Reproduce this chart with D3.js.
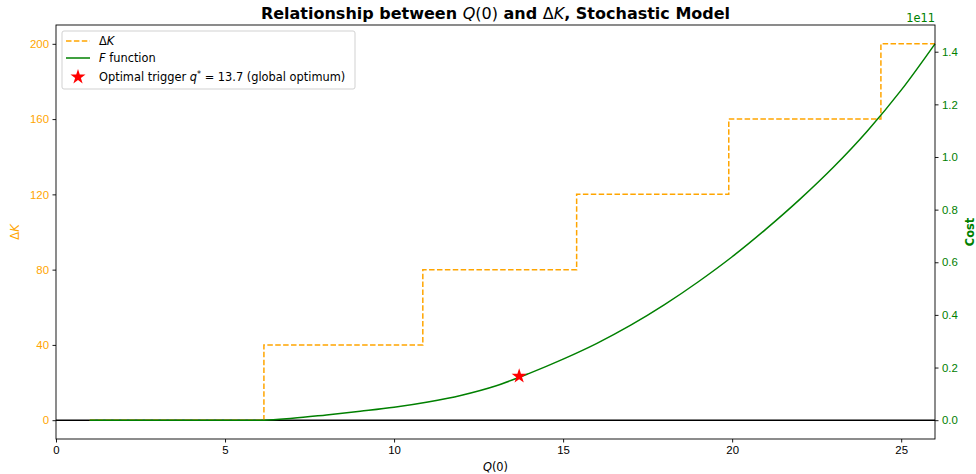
<!DOCTYPE html>
<html>
<head>
<meta charset="utf-8">
<script src="https://cdn.jsdelivr.net/npm/d3@7"></script>
<style>
  body { margin: 0; background: #fff; }
  svg { font-family: "DejaVu Sans", sans-serif; }
</style>
</head>
<body>
<div id="chart"></div>
<script>
// ΔK step function (value holds from each q until the next one)
var stepQ = [1, 6.15, 10.85, 15.4, 19.9, 24.4, 26];
var stepDK = [0, 40, 80, 120, 160, 200, 200];

// F function (cost, in units of 1e11)
var costQ = [1, 2, 3, 4, 5, 6, 6.15, 7, 8, 9, 10, 11, 12, 13, 14, 15, 16, 17, 18, 19, 20, 21, 22, 23, 24, 25, 26];
var costF = [0, 0, 0, 0, 0, 0, 0, 0.007, 0.02, 0.034, 0.049, 0.069, 0.095, 0.13, 0.178, 0.232, 0.292, 0.361, 0.439, 0.526, 0.621, 0.726, 0.839, 0.962, 1.099, 1.254, 1.43];

var optQ = 13.7, optF = 0.167;

var xTicks = [0, 5, 10, 15, 20, 25];
var dkTicks = [0, 40, 80, 120, 160, 200];
var costTicks = [0, 0.2, 0.4, 0.6, 0.8, 1.0, 1.2, 1.4];

var W = 976, H = 474;
var margin = {top: 25, right: 41, bottom: 35, left: 56},
    width = W - margin.left - margin.right,
    height = H - margin.top - margin.bottom;

var orange = "#ffa500", green = "#008000";
var fs = 11.4;

var svg = d3.select("#chart").append("svg")
    .attr("width", W)
    .attr("height", H);

var g = svg.append("g")
    .attr("transform", "translate(" + margin.left + "," + margin.top + ")");

var x = d3.scaleLinear().domain([0, 26]).range([0, width]);
var yK = d3.scaleLinear().domain([-10, 210]).range([height, 0]);
var yC = d3.scaleLinear().domain([-0.0715, 1.5015]).range([height, 0]);

// axes
var xAxis = d3.axisBottom(x).tickValues(xTicks).tickSize(3.5).tickPadding(3.5).tickFormat(d3.format("d"));
var yAxisL = d3.axisLeft(yK).tickValues(dkTicks).tickSize(3.5).tickPadding(3.5);
var yAxisR = d3.axisRight(yC).tickValues(costTicks).tickSize(3.5).tickPadding(3.5).tickFormat(d3.format(".1f"));

function styleAxis(sel, col) {
  sel.select(".domain").remove();
  sel.selectAll(".tick line").attr("stroke", "#000").attr("stroke-width", 0.9);
  sel.selectAll(".tick text").attr("fill", col).style("font-size", fs + "px");
}

g.append("g").attr("transform", "translate(0," + height + ")").call(xAxis).call(styleAxis, "#000");
g.append("g").call(yAxisL).call(styleAxis, orange);
g.append("g").attr("transform", "translate(" + width + ",0)").call(yAxisR).call(styleAxis, green);

// zero line
g.append("line")
    .attr("x1", 0).attr("x2", width)
    .attr("y1", yK(0)).attr("y2", yK(0))
    .attr("stroke", "#000").attr("stroke-width", 1.5);

// ΔK dashed steps
var stepData = stepQ.map(function(q, i) { return [q, stepDK[i]]; });
g.append("path")
    .datum(stepData)
    .attr("fill", "none")
    .attr("stroke", orange)
    .attr("stroke-width", 1.5)
    .attr("stroke-dasharray", "5.5,2.4")
    .attr("d", d3.line()
      .x(function(d) { return x(d[0]); })
      .y(function(d) { return yK(d[1]); })
      .curve(d3.curveStepAfter));

// F function
var costData = costQ.map(function(q, i) { return [q, costF[i]]; });
g.append("path")
    .datum(costData)
    .attr("fill", "none")
    .attr("stroke", green)
    .attr("stroke-width", 1.5)
    .attr("d", d3.line()
      .x(function(d) { return x(d[0]); })
      .y(function(d) { return yC(d[1]); })
      .curve(d3.curveMonotoneX));

// optimum star
var star = d3.symbol().type(d3.symbolStar).size(70);
g.append("path")
    .attr("d", star())
    .attr("transform", "translate(" + x(optQ) + "," + yC(optF) + ")")
    .attr("fill", "red");

// spines
g.append("rect")
    .attr("width", width).attr("height", height)
    .attr("fill", "none").attr("stroke", "#000").attr("stroke-width", 0.9);

// title
var title = svg.append("text")
    .attr("x", margin.left + width / 2).attr("y", 19)
    .attr("text-anchor", "middle")
    .style("font-size", "16px").style("font-weight", "bold");
title.append("tspan").text("Relationship between ");
title.append("tspan").style("font-style", "italic").style("font-weight", "normal").text("Q");
title.append("tspan").style("font-weight", "normal").text("(0)");
title.append("tspan").text(" and ");
title.append("tspan").style("font-weight", "normal").text("Δ");
title.append("tspan").style("font-style", "italic").style("font-weight", "normal").text("K");
title.append("tspan").text(", Stochastic Model");

// offset label on right axis
svg.append("text")
    .attr("x", margin.left + width).attr("y", 22)
    .attr("text-anchor", "end")
    .attr("fill", green)
    .style("font-size", fs + "px")
    .text("1e11");

// axis labels
var xl = svg.append("text")
    .attr("x", margin.left + width / 2).attr("y", 471)
    .attr("text-anchor", "middle")
    .style("font-size", fs + "px");
xl.append("tspan").style("font-style", "italic").text("Q");
xl.append("tspan").text("(0)");

var yl = svg.append("text")
    .attr("transform", "translate(19," + (margin.top + height / 2) + ") rotate(-90)")
    .attr("text-anchor", "middle")
    .attr("fill", orange)
    .style("font-size", fs + "px");
yl.append("tspan").text("Δ");
yl.append("tspan").style("font-style", "italic").text("K");

svg.append("text")
    .attr("transform", "translate(974," + (margin.top + height / 2) + ") rotate(-90)")
    .attr("text-anchor", "middle")
    .attr("fill", green)
    .style("font-size", fs + "px")
    .style("font-weight", "bold")
    .text("Cost");

// legend
var lg = svg.append("g").attr("transform", "translate(62,31)");
lg.append("rect")
    .attr("width", 293).attr("height", 58).attr("rx", 2)
    .attr("fill", "#fff").attr("fill-opacity", 0.8)
    .attr("stroke", "#ccc").attr("stroke-width", 0.9);

var rows = [10, 27, 46];
lg.append("line").attr("x1", 4).attr("x2", 28).attr("y1", rows[0]).attr("y2", rows[0])
    .attr("stroke", orange).attr("stroke-width", 1.5).attr("stroke-dasharray", "5.5,2.4");
lg.append("line").attr("x1", 4).attr("x2", 28).attr("y1", rows[1]).attr("y2", rows[1])
    .attr("stroke", green).attr("stroke-width", 1.5);
lg.append("path").attr("d", star()).attr("transform", "translate(16," + rows[2] + ")").attr("fill", "red");

var t1 = lg.append("text").attr("x", 37).attr("y", rows[0] + 4).style("font-size", fs + "px");
t1.append("tspan").text("Δ");
t1.append("tspan").style("font-style", "italic").text("K");

var t2 = lg.append("text").attr("x", 37).attr("y", rows[1] + 4).style("font-size", fs + "px");
t2.append("tspan").style("font-style", "italic").text("F");
t2.append("tspan").text(" function");

var t3 = lg.append("text").attr("x", 37).attr("y", rows[2] + 4).style("font-size", fs + "px");
t3.append("tspan").text("Optimal trigger ");
t3.append("tspan").style("font-style", "italic").text("q");
t3.append("tspan").attr("dy", -4).style("font-size", "8px").text("*");
t3.append("tspan").attr("dy", 4).text(" = 13.7 (global optimum)");
</script>
</body>
</html>
